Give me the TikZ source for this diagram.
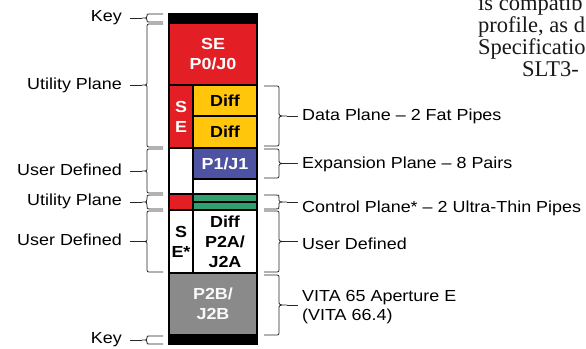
\documentclass[tikz,border=0pt]{standalone}
\usepackage{fontspec}
\setmainfont{Liberation Sans}[FakeStretch=1.12]
\newfontfamily\bodyserif{Liberation Serif}
\definecolor{cred}{RGB}{227,30,36}
\definecolor{cyellow}{RGB}{255,198,12}
\definecolor{cblue}{RGB}{78,82,163}
\definecolor{cgreen}{RGB}{48,158,110}
\definecolor{cgray}{RGB}{138,138,138}
\newcommand{\LBr}[5]{%
  \coordinate (#1) at (142,#4);
  \draw[br] (163,#2) -- (147+#5,#2) .. controls (147,#2) .. (147,#2+#5) -- (147,#4-#5)
    .. controls (147,#4) .. (142,#4) .. controls (147,#4) .. (147,#4+#5) -- (147,#3-#5)
    .. controls (147,#3) .. (147+#5,#3) -- (163,#3);}
\newcommand{\RBr}[5]{%
  \coordinate (#1) at (287,#4);
  \draw[br] (264,#2) -- (279-#5,#2) .. controls (279,#2) .. (279,#2+#5) -- (279,#4-#5)
    .. controls (279,#4) .. (287,#4) .. controls (279,#4) .. (279,#4+#5) -- (279,#3-#5)
    .. controls (279,#3) .. (279-#5,#3) -- (264,#3);}
\begin{document}
\begin{tikzpicture}[x=1pt,y=-1pt,
  cell/.style={draw=black, line width=1.2pt, inner sep=0pt, align=center,
    font=\fontsize{16}{20}\selectfont\bfseries, text=black},
  full/.style={cell, minimum width=88pt},
  narrow/.style={cell, minimum width=24pt},
  wide/.style={cell, minimum width=64pt},
  lab/.style={font=\fontsize{16}{19}\selectfont, inner sep=0pt, text=black},
  br/.style={draw=black!85, line width=0.8pt},
  lead/.style={draw=black!85, line width=0.8pt},
  serif/.style={font=\bodyserif\fontsize{22.5}{22}\selectfont, inner sep=0pt, text=black!90}]
\clip (0,0) rectangle (586,348);
\fill[white] (0,0) rectangle (586,348);

% column cells
\node[full, fill=black, minimum height=9pt] (keyT) at (213,18.5) {};
\node[full, fill=cred, text=white, minimum height=62pt] (se0) at (213,54) {SE\\P0/J0};
\node[narrow, fill=cred, text=white, minimum height=63pt] (seN) at (181,116.5) {S\\E};
\node[wide, fill=cyellow, minimum height=31pt] (diff1) at (225,101) {Diff};
\node[wide, fill=cyellow, minimum height=32pt] (diff2) at (225,132) {Diff};
\node[narrow, fill=white, minimum height=46pt] (wN) at (181,171) {};
\node[wide, fill=cblue, text=white, minimum height=31pt] (p1) at (225,163.5) {P1/J1};
\node[wide, fill=white, minimum height=15pt] (w2) at (225,186.5) {};
\node[narrow, fill=cred, minimum height=16pt] (rN) at (181,202) {};
\node[wide, fill=cgreen, minimum height=8pt] (g1) at (225,198) {};
\node[wide, fill=cgreen, minimum height=8pt] (g2) at (225,206) {};
\node[narrow, fill=white, minimum height=63pt] (seS) at (181,241.5) {S\\E*};
\node[wide, fill=white, minimum height=63pt] (p2a) at (225,241.5) {Diff\\P2A/\\J2A};
\node[full, fill=cgray, text=white!95!gray, minimum height=62pt] (p2b) at (213,304) {P2B/\\J2B};
\node[full, fill=black, minimum height=9pt] (keyB) at (213,339.5) {};
\draw[line width=1.6pt] (169,14) rectangle (257,344);

% left braces
\LBr{tK1}{14}{22}{18}{2}
\LBr{tU1}{24}{147}{85}{4}
\LBr{tD1}{149}{193}{171}{4}
\LBr{tU2}{195}{209}{202}{3}
\LBr{tD2}{211}{272}{241.5}{4}
\LBr{tK2}{336}{344}{340}{2}

\node[lab, anchor=east] (lK1) at (122,18) {Key};
\node[lab, anchor=east] (lU1) at (122,85) {Utility Plane};
\node[lab, anchor=east] (lD1) at (122,170) {User Defined};
\node[lab, anchor=east] (lU2) at (122,201) {Utility Plane};
\node[lab, anchor=east] (lD2) at (122,240) {User Defined};
\node[lab, anchor=east] (lK2) at (122,340) {Key};
\draw[lead] (lK1.east |- tK1) ++(8,0) -- (tK1);
\draw[lead] (lU1.east |- tU1) ++(8,0) -- (tU1);
\draw[lead] (lD1.east |- tD1) ++(8,0) -- (tD1);
\draw[lead] (lU2.east |- tU2) ++(8,0) -- (tU2);
\draw[lead] (lD2.east |- tD2) ++(8,0) -- (tD2);
\draw[lead] (lK2.east |- tK2) ++(8,0) -- (tK2);

% right braces
\RBr{rD}{86}{146}{116}{4}
\RBr{rE}{149}{178}{163.5}{4}
\RBr{rC}{195}{209}{202}{3}
\RBr{rU}{211}{272}{241.5}{4}
\RBr{rV}{275}{335}{305}{4}

\node[lab, anchor=west] (lD) at (302,116) {Data Plane – 2 Fat Pipes};
\node[lab, anchor=west] (lE) at (302,164) {Expansion Plane – 8 Pairs};
\node[lab, anchor=west] (lC) at (302,208) {Control Plane* – 2 Ultra-Thin Pipes};
\node[lab, anchor=west] (lU) at (302,244) {User Defined};
\node[lab, anchor=west, align=left] (lV) at (302,307) {VITA 65 Aperture E\\(VITA 66.4)};
\draw[lead] (rD) -- ([xshift=-4pt]lD.west |- rD);
\draw[lead] (rE) -- ([xshift=-4pt]lE.west |- rE);
\draw[lead] (rC) -- ([xshift=-4pt]lC.west |- rC);
\draw[lead] (rU) -- ([xshift=-4pt]lU.west |- rU);
\draw[lead] (rV) -- ([xshift=-4pt]lV.west |- rV);

% text fragment top right
\node[serif, anchor=base west] (s1) at (478,10) {is compatib};
\node[serif, anchor=base west] (s2) at (478,32) {profile, as d};
\node[serif, anchor=base west] (s3) at (478,54) {Specificatio};
\node[serif, anchor=base west] (s4) at (522,76) {SLT3-};
\end{tikzpicture}
\end{document}
